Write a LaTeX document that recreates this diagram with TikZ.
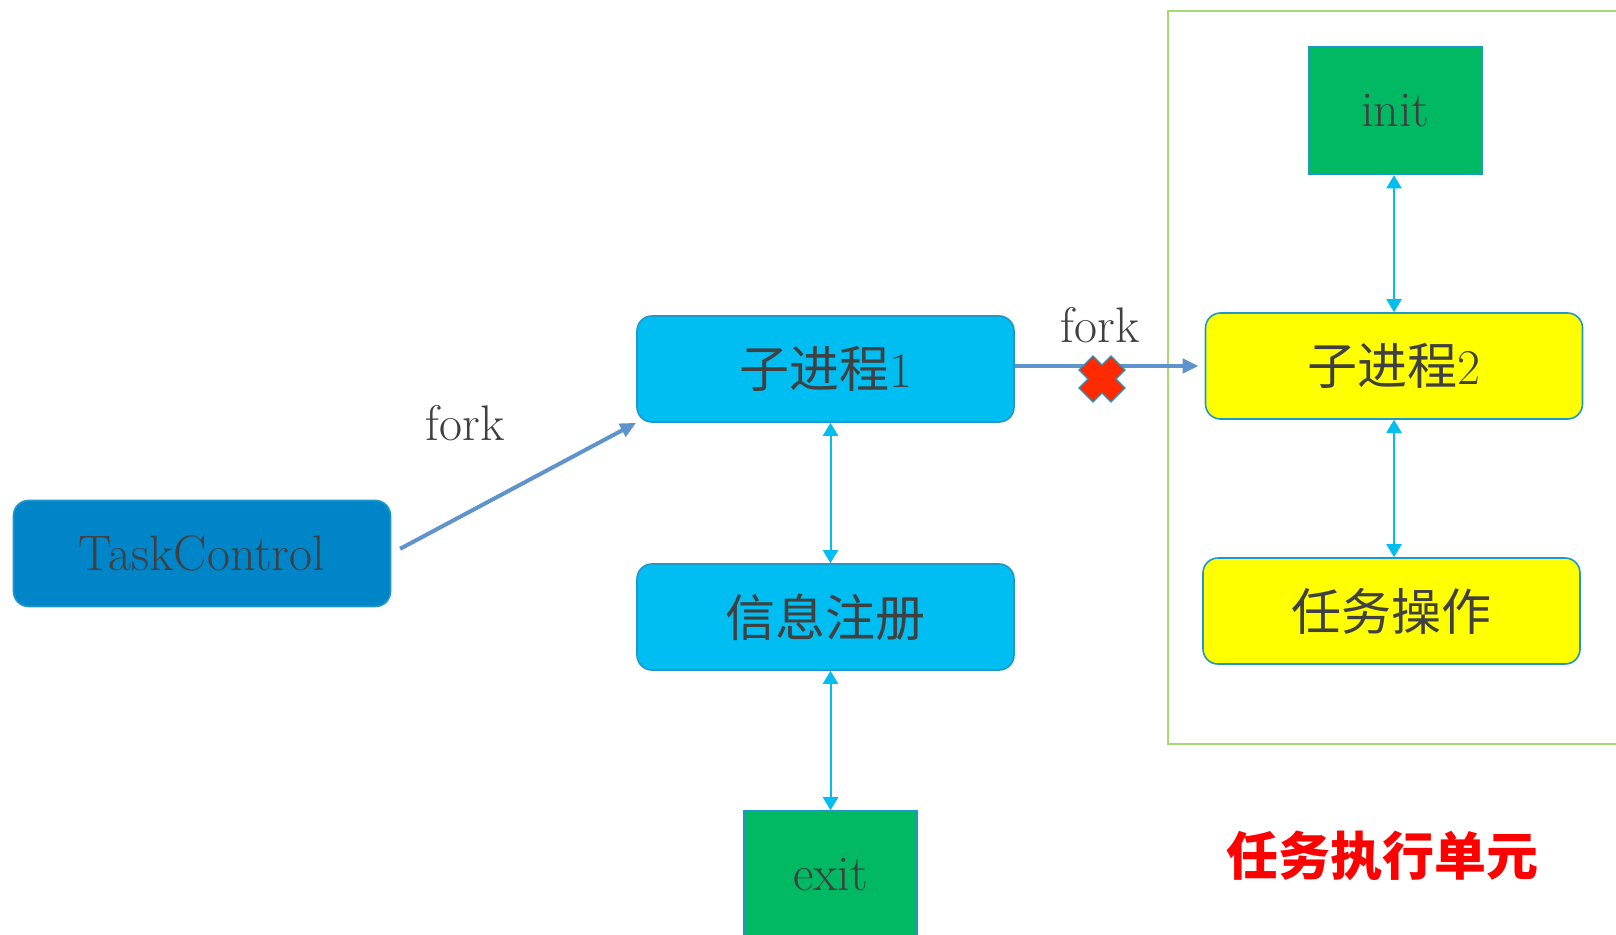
\documentclass[tikz,border=0pt]{standalone}
\usepackage{fontspec}
\newfontfamily\cjk{Noto Sans CJK SC}
\usetikzlibrary{arrows.meta}
\definecolor{txtgray}{HTML}{404040}
\definecolor{skyfill}{HTML}{00BEF2}
\definecolor{tcfill}{HTML}{0085C9}
\definecolor{boxline}{HTML}{1E98C8}
\definecolor{yelfill}{HTML}{FFFF00}
\definecolor{grnfill}{HTML}{00B962}
\definecolor{framegreen}{HTML}{A9D770}
\definecolor{forkblue}{HTML}{5E93CB}
\definecolor{linkcyan}{HTML}{00BDF2}
\definecolor{crossred}{HTML}{FF2A00}

\begin{document}
\begin{tikzpicture}[x=0.5pt, y=-0.5pt,
        box/.style={draw=boxline, line width=0.8pt, rounded corners=7.5pt,
            minimum width=188.5pt, minimum height=53pt, inner sep=0pt,
            text=txtgray, font=\fontsize{25}{30}\selectfont},
        sqbox/.style={box, rounded corners=0pt, fill=grnfill,
            minimum width=86.5pt, minimum height=64pt},
        forkarrow/.style={draw=forkblue, line width=2pt,
            -{Triangle[length=8pt, width=7pt]}},
        link/.style={draw=linkcyan, line width=1pt,
            {Triangle[length=6.5pt, width=7.5pt]}-{Triangle[length=6.5pt, width=7.5pt]}},
        forklabel/.style={text=txtgray, font=\fontsize{25}{30}\selectfont,
            anchor=base}]
    \useasboundingbox (0, 0) rectangle (1616, 935);
    \clip (0, 0) rectangle (1616, 935);

    % task execution unit
    \draw[framegreen, line width=1pt] (1168, 11) rectangle (1660, 744);
    \node[text=red, font=\fontsize{26}{30}\selectfont\cjk\bfseries] (unit)
        at (1382, 856) {任务执行单元};

    % boxes
    \node[box, fill=tcfill] (tc) at (202, 553.5) {TaskControl};
    \node[box, fill=skyfill] (p1) at (825.5, 369) {{\cjk 子进程}1};
    \node[box, fill=skyfill] (reg) at (825.5, 617) {\cjk 信息注册};
    \node[sqbox] (exitbox) at (830.5, 875) {exit};
    \node[sqbox] (initbox) at (1395.5, 110.5) {init};
    \node[box, fill=yelfill] (p2) at (1394, 366) {{\cjk 子进程}2};
    \node[box, fill=yelfill] (task) at (1391.5, 611) {\cjk 任务操作};

    % fork arrows
    \draw[forkarrow, shorten <=5pt] (tc.east) -- (p1.south west);
    \node[forklabel] (fork1) at (465, 440) {fork};
    \draw[forkarrow, shorten >=3pt] (p1.east |- p2.west) -- (p2.west);
    \node[forklabel] (fork2) at (1100, 343) {fork};

    % the cross on the second fork
    \draw[fill=crossred, draw=boxline, line width=0.6pt, shift={(1102, 379)}]
        (-23, -9) -- (-9, -23) -- (0, -14) -- (9, -23) -- (23, -9) --
        (14, 0) -- (23, 9) -- (9, 23) -- (0, 14) -- (-9, 23) --
        (-23, 9) -- (-14, 0) -- cycle;

    % two-way links
    \foreach \a/\b/\c in {p1/reg/exitbox, reg/exitbox/exitbox,
            initbox/p2/p2, p2/task/p2}
        \draw[link] (\a.south -| \c.north) -- (\b.north -| \c.north);
\end{tikzpicture}
\end{document}
